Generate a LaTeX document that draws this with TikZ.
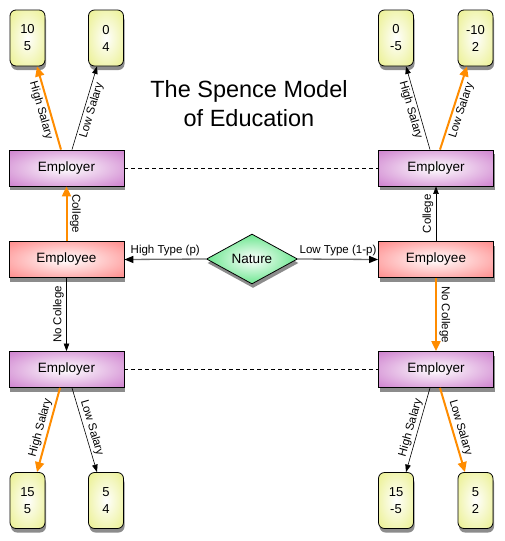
\documentclass[tikz,border=0pt]{standalone}
\usepackage{fontspec}
\setmainfont{Liberation Sans}
\usetikzlibrary{shapes.geometric,shadows,arrows.meta}
\definecolor{emprc}{HTML}{C870C8}
\definecolor{empec}{HTML}{FF7C7C}
\definecolor{leafc}{HTML}{E8EE80}
\definecolor{natc}{HTML}{14D84C}
\definecolor{orng}{HTML}{FF8C00}
\definecolor{linegray}{HTML}{6E6E6E}
\pgfdeclareradialshading{emprshade}{\pgfpoint{0bp}{0bp}}{color(0bp)=(white); color(40bp)=(emprc); color(75bp)=(emprc)}
\pgfdeclareradialshading{empeshade}{\pgfpoint{0bp}{0bp}}{color(0bp)=(white); color(40bp)=(empec); color(75bp)=(empec)}
\pgfdeclareradialshading{leafshade}{\pgfpoint{0bp}{0bp}}{color(0bp)=(white); color(40bp)=(leafc); color(75bp)=(leafc)}
\pgfdeclareradialshading{natshade}{\pgfpoint{0bp}{0bp}}{color(0bp)=(white); color(40bp)=(natc); color(75bp)=(natc)}
\tikzset{
  basebox/.style={draw=black, line width=0.8pt,
    drop shadow={shadow xshift=1pt, shadow yshift=-4pt, fill=black!45, opacity=1}},
  emprbox/.style={basebox, rectangle, minimum width=115pt, minimum height=36pt,
    shading=emprshade, font=\fontsize{13.5}{16}\selectfont},
  empebox/.style={basebox, rectangle, minimum width=115pt, minimum height=36pt,
    shading=empeshade, font=\fontsize{13.5}{16}\selectfont},
  leafbox/.style={basebox, rectangle, rounded corners=6pt, minimum width=35pt,
    minimum height=56pt, shading=leafshade, text width=28pt, align=center,
    inner xsep=2pt, font=\fontsize{13}{17}\selectfont},
  naturebox/.style={basebox, diamond, minimum width=91pt, minimum height=46pt,
    inner sep=0pt, shading=natshade, font=\fontsize{13.5}{16}\selectfont},
  blackarrow/.style={draw=black, line width=0.6pt, -{Triangle[length=7.5pt,width=5.5pt]}},
  orarrow/.style={draw=orng, line width=2pt, -{Triangle[length=10pt,width=9pt]}},
  grayarrow/.style={draw=linegray, line width=1.3pt, -{Triangle[length=9pt,width=7pt,fill=black,color=black]}},
  dashline/.style={draw=black, line width=0.6pt, dash pattern=on 4pt off 3pt},
  lab/.style={sloped, midway, inner sep=2pt, font=\fontsize{11.5}{13}\selectfont},
  vlab/.style={midway, anchor=south, inner sep=2.5pt, font=\fontsize{11.5}{13}\selectfont},
  hlab/.style={midway, above, inner sep=3pt, font=\fontsize{11.5}{13}\selectfont},
}
\begin{document}
\begin{tikzpicture}[x=1pt,y=-1pt]
\useasboundingbox (0,0) rectangle (504,541);

\node[align=center, font=\fontsize{23.5}{29}\selectfont] (T) at (249,104) {The Spence Model\\of Education};

\node[emprbox] (R1) at (66.5,168) {Employer};
\node[emprbox] (R2) at (436,168) {Employer};
\node[empebox] (P1) at (66.5,259.5) {Employee};
\node[empebox] (P2) at (436,259.5) {Employee};
\node[emprbox] (R3) at (66.5,369.5) {Employer};
\node[emprbox] (R4) at (436,369.5) {Employer};
\node[naturebox] (N) at (252,259) {Nature};

\node[leafbox] (L1) at (27.5,38) {10\\5};
\node[leafbox] (L2) at (106,38) {0\\4};
\node[leafbox] (L3) at (396,38) {0\\-5};
\node[leafbox] (L4) at (475.5,38) {-10\\2};
\node[leafbox] (L5) at (27.5,500.5) {15\\5};
\node[leafbox] (L6) at (106,500.5) {5\\4};
\node[leafbox] (L7) at (396,500.5) {15\\-5};
\node[leafbox] (L8) at (475.5,500.5) {5\\2};

% dashed information sets
\draw[dashline] (R1.east) -- (R2.west);
\draw[dashline] (R3.east) -- (R4.west);

% nature moves
\draw[grayarrow] (N.west) -- node[hlab]{High Type (p)} (P1.east);
\draw[grayarrow] (N.east) -- node[hlab]{Low Type (1-p)} (P2.west);

% employee moves
\draw[orarrow] (P1.north) -- node[vlab, rotate=-90]{College} (R1.south);
\draw[blackarrow] (P1.south) -- node[vlab, rotate=90]{No College} (R3.north);
\draw[blackarrow] (P2.north) -- node[vlab, rotate=90]{College} (R2.south);
\draw[orarrow] (P2.south) -- node[vlab, rotate=-90]{No College} (R4.north);

% employer moves, top
\draw[orarrow] ([xshift=-5.5pt]R1.north) -- node[lab, below]{High Salary} ([xshift=9.5pt]L1.south);
\draw[blackarrow] ([xshift=5.5pt]R1.north) -- node[lab, below]{Low Salary} ([xshift=-9pt]L2.south);
\draw[blackarrow] ([xshift=-6pt]R2.north) -- node[lab, below]{High Salary} ([xshift=10pt]L3.south);
\draw[orarrow] ([xshift=4pt]R2.north) -- node[lab, below]{Low Salary} ([xshift=-8.5pt]L4.south);

% employer moves, bottom
\draw[orarrow] ([xshift=-6.5pt]R3.south) -- node[lab, above]{High Salary} ([xshift=9.5pt]L5.north);
\draw[blackarrow] ([xshift=5.5pt]R3.south) -- node[lab, above]{Low Salary} ([xshift=-9pt]L6.north);
\draw[blackarrow] ([xshift=-6pt]R4.south) -- node[lab, above]{High Salary} ([xshift=10pt]L7.north);
\draw[orarrow] ([xshift=4pt]R4.south) -- node[lab, above]{Low Salary} ([xshift=-10.5pt]L8.north);
\end{tikzpicture}
\end{document}
